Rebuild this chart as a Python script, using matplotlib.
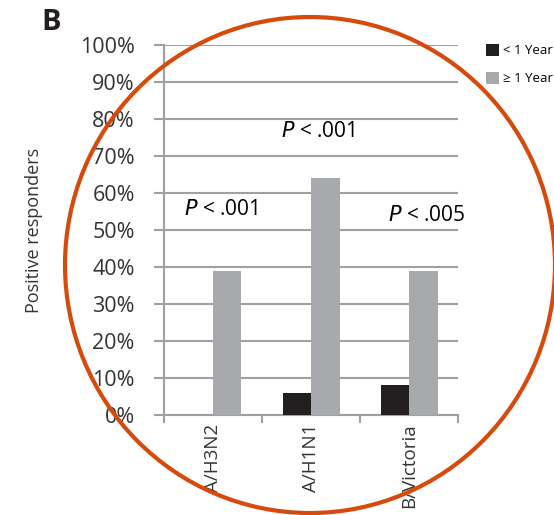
import numpy as np
import matplotlib.pyplot as plt
from matplotlib.patches import Ellipse

# Values (percent of positive responders)
strains = ['A/H3N2', 'A/H1N1', 'B/Victoria']
under_1yr = [0, 6, 8]
over_1yr = [39, 64, 39]
p_labels = ['< .001', '< .001', '< .005']
p_x = [1.08, 2.07, 3.18]
p_y = [55.4, 76.5, 54.0]

plt.rcParams['font.family'] = ['Open Sans', 'DejaVu Sans']

fig = plt.figure(figsize=(5.54, 5.15), dpi=100)
ax = fig.add_axes([0.296, 0.194, 0.531, 0.719])

x = np.arange(1, len(strains) + 1)
w = 0.29
ax.bar(x - w / 2, under_1yr, w, color='#231f20', zorder=3, label='< 1 Year')
ax.bar(x + w / 2, over_1yr, w, color='#a7a9ac', zorder=3, label='\u2265 1 Year')

ax.set_xlim(0.5, 3.5)
ax.set_ylim(0, 100)
ax.set_yticks(np.arange(0, 101, 10))
ax.set_yticklabels([f'{v}%' for v in range(0, 101, 10)], fontsize=15.5, color='#333333')
ax.set_xticks(x)
ax.set_xticklabels(strains, rotation=90, fontsize=13.5, color='#333333')
ax.set_xticks([0.5, 1.5, 2.5, 3.5], minor=True)
ax.tick_params(axis='x', which='major', length=0, pad=6)
ax.tick_params(axis='x', which='minor', length=6, width=1.5, color='#a0a0a0')
ax.tick_params(axis='y', length=7, width=1.5, color='#a0a0a0', pad=14)

ax.grid(axis='y', color='#a0a0a0', linewidth=1.5, zorder=0)
for s in ['top', 'right']:
    ax.spines[s].set_visible(False)
for s in ['left', 'bottom']:
    ax.spines[s].set_color('#a0a0a0')
    ax.spines[s].set_linewidth(1.5)

ax.set_ylabel('Positive responders', fontsize=13, color='#333333')
ax.yaxis.set_label_coords(-0.41, 0.5)

for xi, yi, lab in zip(p_x, p_y, p_labels):
    ax.text(xi, yi, r'$\it{P}$ ' + lab, ha='center', va='center', fontsize=15)

leg = fig.legend(loc='upper left', bbox_to_anchor=(0.868, 0.925), frameon=False,
                 fontsize=9.5, handlelength=1.0, handleheight=1.0, labelspacing=1.1,
                 handletextpad=0.25, borderaxespad=0)

fig.text(0.074, 0.957, 'B', fontsize=21, fontweight='bold', color='#231f20', va='center')

circle = Ellipse((310 / 554, 1 - 265 / 515), 490 / 554, 496 / 515, transform=fig.transFigure,
                 fill=False, edgecolor='#d64a0c', linewidth=3, zorder=10)
fig.patches.append(circle)

fig.savefig('out.png', dpi=100)
